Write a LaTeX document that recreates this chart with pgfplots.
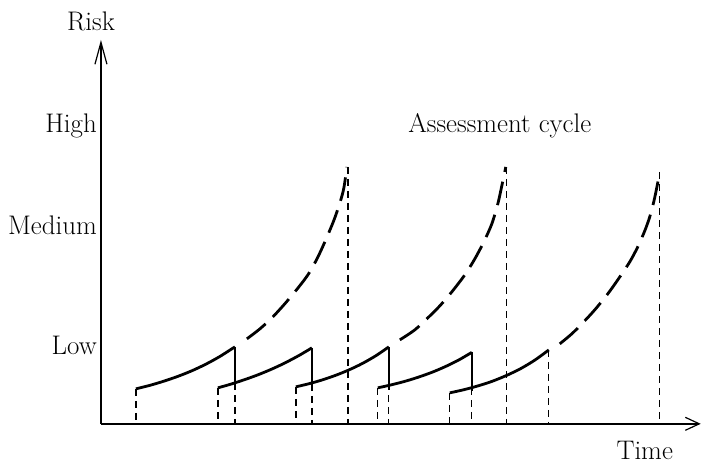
\documentclass[border=0pt]{standalone}
\usepackage{pgfplots}
\pgfplotsset{compat=1.18}
\usetikzlibrary{arrows.meta}
\begin{document}
\fontsize{27}{32}\selectfont
\begin{tikzpicture}
\begin{axis}[
  x=1bp, y=1bp,
  xmin=101, xmax=701, ymin=0, ymax=384,
  axis lines=left,
  axis line style={line width=1.5bp},
  x axis line style={-{Straight Barb[length=14bp,width=13bp,line width=1.2bp]}},
  y axis line style={-{Straight Barb[length=22bp,width=12bp,line width=1.2bp]}},
  xtick=\empty,
  ytick={69,189,291},
  yticklabels={Low,Medium,High},
  major tick length=0pt,
  yticklabel style={anchor=base east, inner sep=0pt, xshift=-4bp, font=\fontsize{27}{32}\selectfont},
  clip=false,
  no markers,
]
% bounding box of the whole picture (702 x 464)
\path (axis cs:0,-40) rectangle (axis cs:702,424);

% vertical dashed guide lines
\addplot[line width=1.3bp, dash pattern=on 7bp off 5bp] coordinates {(136,35) (136,0)};
\addplot[line width=1.3bp, dash pattern=on 7bp off 5bp] coordinates {(218,36) (218,0)};
\addplot[line width=1.3bp, dash pattern=on 7bp off 5bp] coordinates {(235,77) (235,0)};
\addplot[line width=1.3bp, dash pattern=on 7bp off 5bp] coordinates {(296,37) (296,0)};
\addplot[line width=1.3bp, dash pattern=on 7bp off 5bp] coordinates {(312,76) (312,0)};
\addplot[line width=1.3bp, dash pattern=on 7bp off 5bp] coordinates {(348,257) (348,0)};
\addplot[line width=1.3bp, dash pattern=on 7bp off 5bp] coordinates {(378,36) (378,0)};
\addplot[line width=1.3bp, dash pattern=on 7bp off 5bp] coordinates {(389,77) (389,0)};
\addplot[line width=1.3bp, dash pattern=on 7bp off 5bp] coordinates {(450,31) (450,0)};
\addplot[line width=1.3bp, dash pattern=on 7bp off 5bp] coordinates {(472,72) (472,0)};
\addplot[line width=1.3bp, dash pattern=on 7bp off 5bp] coordinates {(507,257) (507,0)};
\addplot[line width=1.3bp, dash pattern=on 7bp off 5bp] coordinates {(549,74) (549,0)};
\addplot[line width=1.3bp, dash pattern=on 7bp off 5bp] coordinates {(660,252) (660,0)};

% solid drops at the end of solid curves
\addplot[line width=1.4bp] coordinates {(235,77) (235,36)};
\addplot[line width=1.4bp] coordinates {(312,76) (312,36)};
\addplot[line width=1.4bp] coordinates {(389,77) (389,34)};
\addplot[line width=1.4bp] coordinates {(472,72) (472,33)};

% solid risk curves
\addplot[line width=2.8bp, smooth] coordinates {(136,35.0) (150,38.5) (164,42.7) (178,47.5) (192,53.1) (206,59.7) (220,67.4) (235,77.0)};
\addplot[line width=2.8bp, smooth] coordinates {(218,36.0) (231,39.7) (245,44.3) (258,49.0) (272,54.8) (285,60.9) (299,68.3) (312,76.0)};
\addplot[line width=2.8bp, smooth] coordinates {(296,37.0) (309,40.1) (322,43.8) (336,48.6) (349,53.9) (362,60.1) (376,68.1) (389,77.0)};
\addplot[line width=2.8bp, smooth] coordinates {(378,36.0) (391,38.9) (405,42.5) (418,46.5) (432,51.5) (445,57.0) (459,63.9) (472,71.5)};
\addplot[line width=2.8bp, smooth] coordinates {(450,31.0) (464,34.1) (478,37.9) (492,42.4) (507,48.5) (521,55.3) (535,63.7) (549,73.9)};

% dashed continuations
\addplot[line width=2.8bp, smooth, dash pattern=on 24bp off 10bp] coordinates {(247,85) (260,95) (273,107) (290,126) (308,149) (320,171) (333,201) (340,221) (344,236) (347,257)};
\addplot[line width=2.8bp, smooth, dash pattern=on 24bp off 10bp] coordinates {(400,84) (415,94) (428,106) (440,118) (452,132) (465,149) (475,165) (484,182) (492,200) (498,220) (502,238) (506,257)};
\addplot[line width=2.8bp, smooth, dash pattern=on 24bp off 10bp] coordinates {(560,80) (572,90) (583,101) (595,114) (608,130) (618,144) (630,162) (638,177) (645,193) (650,207) (654,222) (657,236) (660,252)};

% texts
\node[anchor=base, inner sep=0pt] at (axis cs:91,393) {Risk};
\node[anchor=base, inner sep=0pt] at (axis cs:645,-36) {Time};
\node[anchor=base, inner sep=0pt] at (axis cs:500,291) {Assessment cycle};
\end{axis}
\end{tikzpicture}
\end{document}
